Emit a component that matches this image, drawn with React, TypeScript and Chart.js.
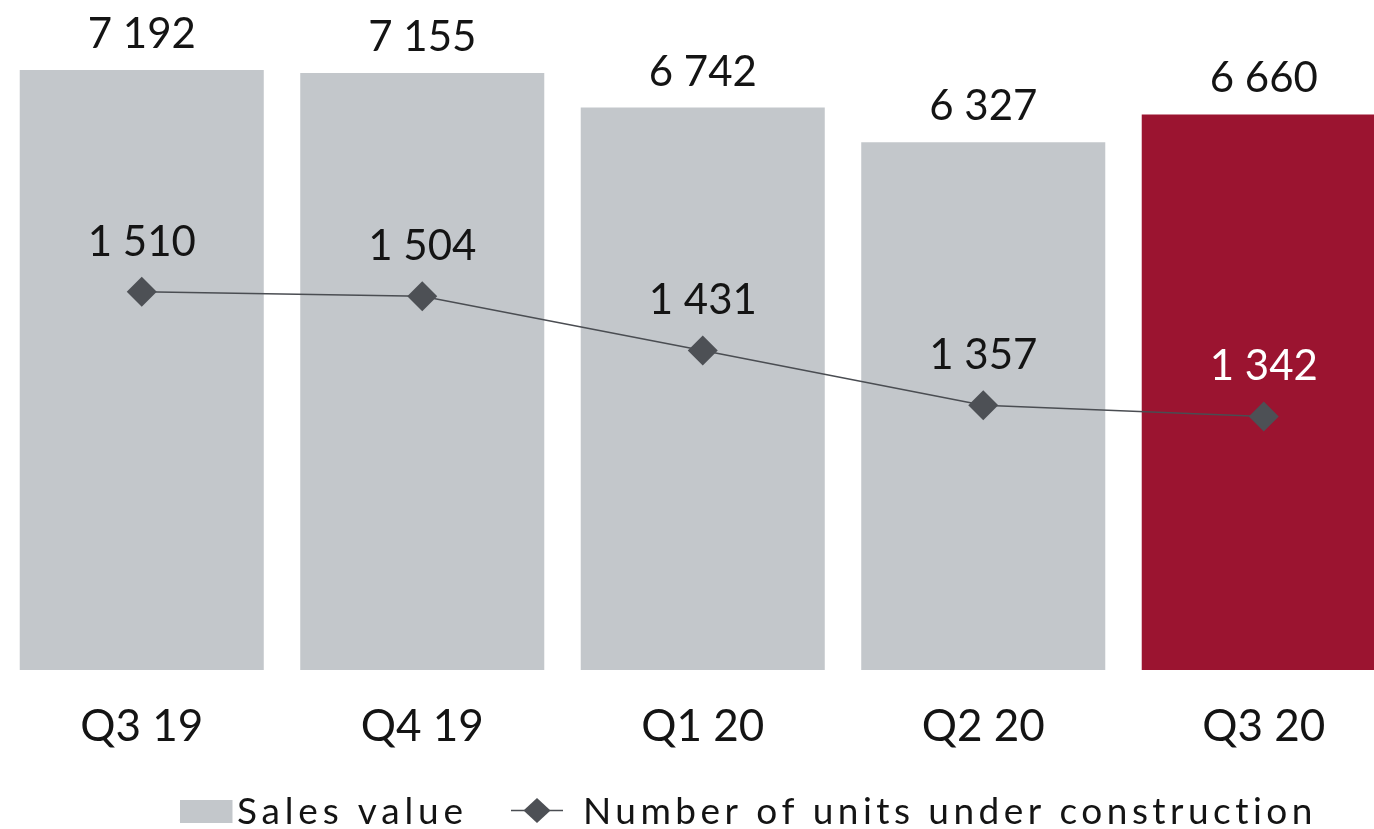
import React, { useEffect, useRef } from "react";
import { Chart, registerables } from "chart.js";

Chart.register(...registerables);

const categories = ["Q3 19", "Q4 19", "Q1 20", "Q2 20", "Q3 20"];
const salesValue = [7192, 7155, 6742, 6327, 6660];
const unitsUnderConstruction = [1510, 1504, 1431, 1357, 1342];
const highlightIndex = 4;
const legendLabels = ["Sales value", "Number of units under construction"];

const GRAY = "#c3c7cb";
const RED = "#9b1430";
const MARKER = "#4d5055";
const LINE = "#4a4d52";
const TEXT = "#141414";
const FONT = "Lato";

const fmt = (v: number) => String(v).replace(/\B(?=(\d{3})+(?!\d))/g, " ");

const labelsPlugin = {
  id: "valueLabels",
  afterDatasetsDraw(chart: any) {
    const ctx = chart.ctx;
    ctx.save();
    ctx.font = `42px ${FONT}`;
    ctx.textAlign = "center";
    ctx.textBaseline = "alphabetic";
    const barMeta = chart.getDatasetMeta(0);
    barMeta.data.forEach((el: any, i: number) => {
      ctx.fillStyle = TEXT;
      ctx.fillText(fmt(salesValue[i]), el.x, el.y - 22);
    });
    const lineMeta = chart.getDatasetMeta(1);
    lineMeta.data.forEach((el: any, i: number) => {
      ctx.fillStyle = i === highlightIndex ? "#ffffff" : TEXT;
      ctx.fillText(fmt(unitsUnderConstruction[i]), el.x, el.y - 36);
    });
    ctx.restore();
  },
};

const legendPlugin = {
  id: "customLegend",
  afterDraw(chart: any) {
    const ctx = chart.ctx;
    ctx.save();
    const baseY = 824;
    ctx.fillStyle = GRAY;
    ctx.fillRect(180, 800, 52.5, 23);
    ctx.strokeStyle = LINE;
    ctx.lineWidth = 1.5;
    ctx.beginPath();
    ctx.moveTo(511, 810.5);
    ctx.lineTo(563, 810.5);
    ctx.stroke();
    ctx.fillStyle = MARKER;
    ctx.beginPath();
    ctx.moveTo(537 - 13.5, 810.5);
    ctx.lineTo(537, 810.5 - 12.5);
    ctx.lineTo(537 + 13.5, 810.5);
    ctx.lineTo(537, 810.5 + 12.5);
    ctx.closePath();
    ctx.fill();
    ctx.font = `37px ${FONT}`;
    ctx.textAlign = "left";
    ctx.textBaseline = "alphabetic";
    ctx.fillStyle = TEXT;
    const items = [
      { text: legendLabels[0], x: 237, w: 226 },
      { text: legendLabels[1], x: 583, w: 730 },
    ];
    items.forEach((it) => {
      (ctx as any).letterSpacing = "0px";
      const m = ctx.measureText(it.text).width;
      const ls = (it.w - m) / Math.max(1, it.text.length - 1);
      (ctx as any).letterSpacing = `${ls}px`;
      ctx.fillText(it.text, it.x, baseY);
    });
    (ctx as any).letterSpacing = "0px";
    ctx.restore();
  },
};

export default function App() {
  const ref = useRef<HTMLCanvasElement>(null);
  useEffect(() => {
    if (!ref.current) return;
    const chart = new Chart(ref.current, {
      type: "bar",
      data: {
        labels: categories,
        datasets: [
          {
            type: "bar",
            label: legendLabels[0],
            data: salesValue,
            backgroundColor: salesValue.map((_, i) => (i === highlightIndex ? RED : GRAY)),
            borderWidth: 0,
            barPercentage: 0.87,
            categoryPercentage: 1,
            yAxisID: "y",
            order: 2,
          },
          {
            type: "line",
            label: legendLabels[1],
            data: unitsUnderConstruction,
            borderColor: LINE,
            borderWidth: 1.5,
            pointStyle: "rectRot",
            pointRadius: 15,
            pointBackgroundColor: MARKER,
            pointBorderColor: MARKER,
            pointBorderWidth: 0,
            tension: 0,
            yAxisID: "y1",
            order: 1,
            clip: false,
          } as any,
        ],
      },
      options: {
        responsive: false,
        animation: false,
        layout: { autoPadding: false, padding: { top: 2.6, bottom: 46.2, left: 1.5, right: 0 } },
        plugins: {
          legend: { display: false },
          tooltip: { enabled: false },
        },
        scales: {
          x: {
            grid: { display: false, drawTicks: false },
            border: { display: false },
            ticks: {
              padding: 30,
              color: TEXT,
              font: { family: FONT, size: 44 },
            },
          },
          y: { display: false, min: 0, max: 8000 },
          y1: { display: false, min: 1000, max: 1900, position: "right" },
        },
      } as any,
      plugins: [labelsPlugin, legendPlugin],
    });
    return () => chart.destroy();
  }, []);
  return (
    <div
      style={{
        position: "fixed",
        left: 0,
        top: 0,
        width: 1374,
        height: 829,
        overflow: "hidden",
        background: "#fff",
      }}
    >
      <canvas ref={ref} width={1404} height={829} style={{ display: "block" }} />
    </div>
  );
}
